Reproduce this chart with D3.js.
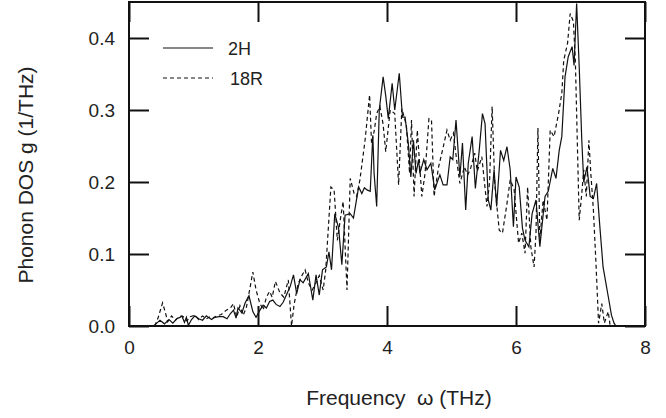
<!DOCTYPE html>
<html>
<head>
<meta charset="utf-8">
<script src="https://cdn.jsdelivr.net/npm/d3@7"></script>
<style>
  body { margin: 0; background: #fff; }
  svg text { font-family: "Liberation Sans", Arial, sans-serif; fill: #222; }
</style>
</head>
<body>
<svg id="chart" width="666" height="418"></svg>
<script>
// phonon DOS of 2H (solid) and 18R (dashed)
var freq2H = [0.38,0.43,0.48,0.55,0.62,0.68,0.74,0.79,0.82,0.86,0.89,0.92,0.97,1.02,1.08,1.14,1.20,1.23,1.28,1.33,
  1.40,1.46,1.52,1.57,1.62,1.66,1.69,1.75,1.80,1.86,1.92,1.97,2.03,2.08,2.13,2.18,2.23,2.28,2.34,2.39,
  2.44,2.50,2.55,2.60,2.65,2.70,2.78,2.85,2.90,2.95,3.00,3.06,3.10,3.14,3.19,3.25,3.30,3.35,3.43,3.48,
  3.56,3.61,3.65,3.69,3.74,3.78,3.80,3.84,3.88,3.94,3.98,4.02,4.08,4.12,4.19,4.24,4.28,4.33,4.37,4.41,
  4.45,4.49,4.51,4.57,4.62,4.68,4.74,4.78,4.82,4.87,4.93,4.98,5.02,5.07,5.13,5.17,5.22,5.26,5.32,5.37,
  5.43,5.48,5.52,5.57,5.61,5.66,5.70,5.76,5.81,5.86,5.91,5.96,6.00,6.05,6.10,6.14,6.20,6.25,6.31,6.37,
  6.45,6.50,6.57,6.62,6.67,6.71,6.76,6.81,6.87,6.90,6.94,6.98,7.02,7.05,7.10,7.15,7.20,7.25,7.30,7.35,
  7.43,7.48,7.52,7.55];
var dos2H = [0,0.004,0.008,0.003,0.009,0.004,0.010,0.012,0.014,0.005,0.012,0.001,0.009,0.014,0.010,0.008,0.014,0.012,0.009,0.012,
  0.013,0.013,0.010,0.017,0.022,0.011,0.025,0.018,0.032,0.042,0.020,0.012,0.022,0.029,0.025,0.034,0.036,0.030,0.027,0.033,
  0.043,0.055,0.071,0.045,0.064,0.060,0.073,0.036,0.071,0.043,0.078,0.082,0.103,0.078,0.156,0.136,0.085,0.154,0.156,0.150,
  0.193,0.184,0.192,0.189,0.187,0.265,0.212,0.166,0.300,0.346,0.320,0.288,0.337,0.300,0.351,0.290,0.290,0.254,0.207,0.258,
  0.212,0.231,0.212,0.231,0.217,0.226,0.189,0.200,0.210,0.196,0.196,0.235,0.231,0.286,0.207,0.254,0.161,0.226,0.263,0.191,
  0.244,0.295,0.281,0.175,0.161,0.217,0.166,0.244,0.230,0.249,0.217,0.138,0.207,0.193,0.136,0.119,0.110,0.156,0.175,0.110,
  0.180,0.187,0.219,0.205,0.244,0.263,0.346,0.374,0.388,0.362,0.448,0.360,0.258,0.200,0.221,0.180,0.177,0.198,0.138,0.082,
  0.041,0.015,0.004,0];

var freq18R = [0.40,0.45,0.52,0.56,0.60,0.66,0.72,0.79,0.84,0.90,0.95,1.02,1.08,1.14,1.20,1.26,1.30,1.36,1.43,1.51,
  1.58,1.62,1.67,1.72,1.77,1.82,1.88,1.92,1.97,2.02,2.08,2.13,2.18,2.22,2.27,2.34,2.40,2.47,2.52,2.56,
  2.62,2.68,2.73,2.78,2.84,2.90,2.95,3.01,3.05,3.13,3.18,3.23,3.28,3.32,3.38,3.43,3.49,3.53,3.58,3.66,
  3.73,3.76,3.80,3.84,3.89,3.94,3.98,4.05,4.12,4.18,4.23,4.30,4.35,4.38,4.42,4.47,4.54,4.59,4.65,4.69,
  4.73,4.80,4.85,4.93,4.98,5.03,5.08,5.13,5.20,5.25,5.29,5.36,5.40,5.47,5.55,5.59,5.63,5.67,5.74,5.79,
  5.86,5.91,5.97,6.04,6.09,6.14,6.18,6.23,6.28,6.31,6.34,6.37,6.42,6.48,6.53,6.59,6.66,6.71,6.74,6.80,
  6.84,6.89,6.92,6.95,6.98,7.02,7.05,7.09,7.13,7.16,7.20,7.24,7.28,7.33,7.37,7.43,7.46];
var dos18R = [0,0.011,0.032,0.020,0.006,0.014,0.008,0.014,0.013,0.007,0.013,0.015,0.009,0.014,0.010,0.013,0.011,0.014,0.016,0.022,
  0.026,0.031,0.012,0.028,0.015,0.026,0.055,0.075,0.050,0.034,0.022,0.040,0.048,0.040,0.062,0.046,0.040,0.064,0.000,0.030,
  0.058,0.070,0.078,0.060,0.050,0.060,0.070,0.050,0.078,0.193,0.189,0.119,0.150,0.173,0.050,0.205,0.184,0.180,0.203,0.258,
  0.321,0.254,0.270,0.295,0.305,0.280,0.242,0.300,0.295,0.196,0.302,0.279,0.212,0.286,0.180,0.272,0.180,0.212,0.288,0.286,
  0.180,0.221,0.240,0.272,0.258,0.268,0.230,0.198,0.221,0.210,0.217,0.240,0.215,0.235,0.166,0.200,0.305,0.198,0.133,0.129,
  0.170,0.203,0.190,0.115,0.129,0.101,0.193,0.110,0.082,0.129,0.275,0.119,0.175,0.147,0.272,0.263,0.295,0.323,0.369,0.393,
  0.434,0.423,0.369,0.258,0.147,0.184,0.217,0.180,0.258,0.212,0.161,0.087,0.004,0.031,0.004,0.020,0];

var xTicks = [0, 2, 4, 6, 8];
var yTicks = [0, 0.1, 0.2, 0.3, 0.4];

var svg = d3.select("#chart");
var mLeft = 129, mRight = 645, mTop = 2, mBottom = 326;

var x = d3.scaleLinear().domain([0, 8]).range([mLeft, mRight]);
var y = d3.scaleLinear().domain([0, 0.45]).range([mBottom, mTop]);

var line = d3.line()
  .x(function(d){ return x(d[0]); })
  .y(function(d){ return y(d[1]); });

var series2H = freq2H.map(function(f, i){ return [f, dos2H[i]]; });
var series18R = freq18R.map(function(f, i){ return [f, dos18R[i]]; });

svg.append("path").datum(series18R)
  .attr("d", line).attr("fill", "none").attr("stroke", "#111")
  .attr("stroke-width", 1.2).attr("stroke-dasharray", "4,3");
svg.append("path").datum(series2H)
  .attr("d", line).attr("fill", "none").attr("stroke", "#111")
  .attr("stroke-width", 1.2);

// axes, ticks pointing inward
function styleAxis(g){
  g.select(".domain").remove();
  g.selectAll(".tick line").attr("stroke", "#111").attr("stroke-width", 2);
  g.selectAll(".tick text").style("font-size", "19px").attr("fill", "#222");
}

svg.append("g").attr("transform", "translate(0," + mBottom + ")")
  .call(d3.axisBottom(x).tickValues(xTicks).tickSizeInner(-20).tickSizeOuter(0).tickPadding(15).tickFormat(d3.format("d")))
  .call(styleAxis);
svg.append("g").attr("transform", "translate(0," + mTop + ")")
  .call(d3.axisTop(x).tickValues(xTicks).tickSizeInner(-20).tickSizeOuter(0).tickFormat(""))
  .call(styleAxis);
svg.append("g").attr("transform", "translate(" + mLeft + ",0)")
  .call(d3.axisLeft(y).tickValues(yTicks).tickSizeInner(-20).tickSizeOuter(0).tickPadding(14).tickFormat(d3.format(".1f")))
  .call(styleAxis);
svg.append("g").attr("transform", "translate(" + mRight + ",0)")
  .call(d3.axisRight(y).tickValues(yTicks).tickSizeInner(-20).tickSizeOuter(0).tickFormat(""))
  .call(styleAxis);

svg.append("rect")
  .attr("x", mLeft).attr("y", mTop)
  .attr("width", mRight - mLeft).attr("height", mBottom - mTop)
  .attr("fill", "none").attr("stroke", "#111").attr("stroke-width", 2);

// legend
var legend = [
  { name: "2H", dash: null, y: 48, tx: 228 },
  { name: "18R", dash: "4,3", y: 78, tx: 230 }
];
legend.forEach(function(l){
  svg.append("line")
    .attr("x1", 163).attr("x2", 213).attr("y1", l.y).attr("y2", l.y)
    .attr("stroke", "#111").attr("stroke-width", 1.2)
    .attr("stroke-dasharray", l.dash);
  svg.append("text").attr("x", l.tx).attr("y", l.y + 7)
    .style("font-size", "18px").text(l.name);
});

// axis titles
svg.append("text")
  .attr("x", 399).attr("y", 405)
  .attr("text-anchor", "middle").style("font-size", "21px")
  .style("white-space", "pre")
  .text("Frequency  \u03c9 (THz)");
svg.append("text")
  .attr("transform", "translate(33,175) rotate(-90)")
  .attr("text-anchor", "middle").style("font-size", "21px")
  .text("Phonon DOS g (1/THz)");
</script>
</body>
</html>
